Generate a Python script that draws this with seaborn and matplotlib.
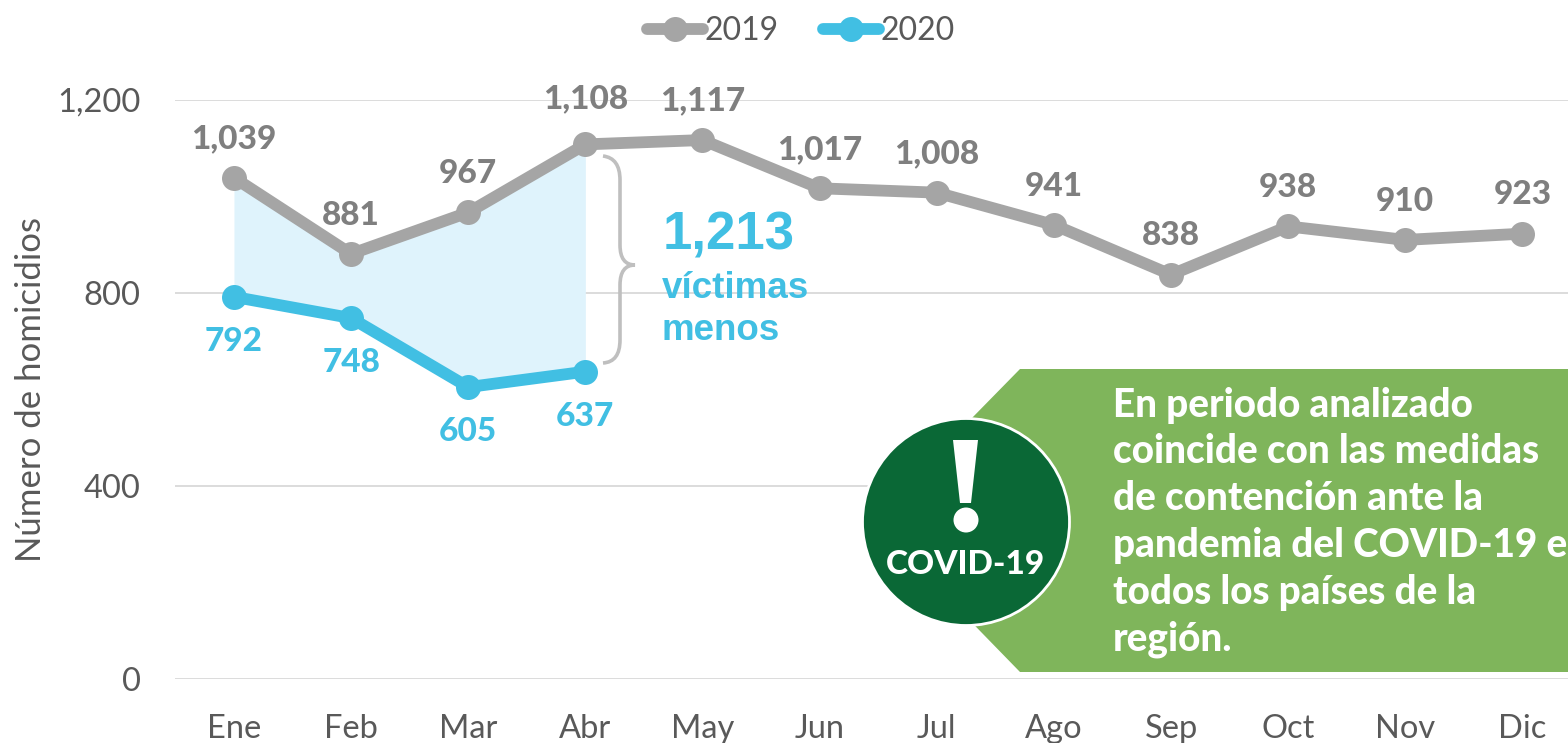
import numpy as np
import pandas as pd
import seaborn as sns
import matplotlib.pyplot as plt
from matplotlib.patches import Circle, PathPatch, Polygon
from matplotlib.path import Path

# Data
months = ['Ene', 'Feb', 'Mar', 'Abr', 'May', 'Jun', 'Jul', 'Ago', 'Sep', 'Oct', 'Nov', 'Dic']
values_2019 = [1039, 881, 967, 1108, 1117, 1017, 1008, 941, 838, 938, 910, 923]
values_2020 = [792, 748, 605, 637]
y_ticks = [0, 400, 800, 1200]
y_tick_labels = ['0', '400', '800', '1,200']
callout_lines = ['En periodo analizado', 'coincide con las medidas', 'de contención ante la',
                 'pandemia del COVID-19 e', 'todos los países de la', 'región.']

GRAY = '#A5A5A5'
GRAY_TEXT = '#7F7F7F'
BLUE = '#41BFE3'
DARK = '#595959'
W, H = 1568, 743

df = pd.concat([
    pd.DataFrame({'mes': months, 'homicidios': values_2019, 'anio': '2019'}),
    pd.DataFrame({'mes': months[:4], 'homicidios': values_2020, 'anio': '2020'}),
])

sns.set_theme(style='white')
plt.rcParams['font.family'] = ['Lato', 'DejaVu Sans']

fig = plt.figure(figsize=(W / 100, H / 100), dpi=100)
ax = fig.add_axes([175.4 / W, 1 - 679 / H, (1581 - 175.4) / W, (679 - 100) / H])

# Shaded gap between the years
ax.fill_between(np.arange(4), values_2019[:4], values_2020, color='#DFF3FC', lw=0, zorder=1)

sns.lineplot(data=df, x='mes', y='homicidios', hue='anio', palette=[GRAY, BLUE], sort=False,
             marker='o', markersize=18, markeredgewidth=0, linewidth=8.5,
             errorbar=None, ax=ax, zorder=3)

ax.set_xlim(-0.5, 11.5)
ax.set_ylim(0, 1200)
ax.set_yticks(y_ticks, y_tick_labels)
ax.set_xlabel('')
ax.set_ylabel('')
ax.tick_params(axis='both', length=0, labelsize=23.5, labelcolor=DARK)
ax.tick_params(axis='x', pad=25.5)
ax.tick_params(axis='y', pad=25)
ax.grid(axis='y', color='#D9D9D9', lw=1.3)
ax.set_axisbelow(True)
sns.despine(ax=ax, left=True, bottom=True, right=True, top=True)

fig.text(31 / W, 1 - 390 / H, 'Número de homicidios', rotation=90, ha='center', va='center',
         fontsize=25, color=DARK)

# Legend
handles, labels = ax.get_legend_handles_labels()
leg = ax.legend(handles, labels, loc='center', bbox_to_anchor=(801 / W, 1 - 31 / H),
                bbox_transform=fig.transFigure, ncol=2, frameon=False, fontsize=23,
                labelcolor=DARK, handlelength=1.75, handletextpad=0.05, columnspacing=1.4,
                borderpad=0, numpoints=1)
for line in leg.get_lines():
    line.set_solid_capstyle('round')

# Value labels
for i, v in enumerate(values_2019):
    off = 33 if i == 3 else 28
    ax.annotate(f'{v:,}', (i, v), xytext=(0, off), textcoords='offset points', ha='center',
                va='center', fontsize=24, fontweight=900, color=GRAY_TEXT, zorder=5)
for i, v in enumerate(values_2020):
    ax.annotate(f'{v:,}', (i, v), xytext=(0, -32), textcoords='offset points', ha='center',
                va='center', fontsize=24, fontweight=900, color=BLUE, zorder=5)


def px(x, y):
    return x / W, 1 - y / H


# Brace
brace = [(603, 156), (620, 158), (620, 180), (620, 245), (620, 265), (635, 265),
         (620, 265), (620, 285), (620, 340), (620, 362), (603, 363)]
codes = [Path.MOVETO, Path.CURVE3, Path.CURVE3, Path.LINETO, Path.CURVE3, Path.CURVE3,
         Path.CURVE3, Path.CURVE3, Path.LINETO, Path.CURVE3, Path.CURVE3]
fig.add_artist(PathPatch(Path([px(*p) for p in brace], codes), fill=False, ec='#BFBFBF', lw=2.6,
                         transform=fig.transFigure))

fig.text(*px(663, 236), '1,213', fontsize=38, fontweight='bold', color=BLUE, va='center',
         family='Liberation Sans')
fig.text(*px(662, 288), 'víctimas', fontsize=26.5, fontweight='bold', color=BLUE, va='center',
         family='Liberation Sans')
fig.text(*px(662, 331), 'menos', fontsize=26.5, fontweight='bold', color=BLUE, va='center',
         family='Liberation Sans')

# Callout
arrow = [(1020, 369), (1568, 369), (1568, 672), (1020, 672), (872, 520)]
fig.add_artist(Polygon([px(*p) for p in arrow], closed=True, fc='#7FB55B', ec='none',
                       transform=fig.transFigure, zorder=6))
for i, line in enumerate(callout_lines):
    fig.text(*px(1113, 405 + i * 46.8), line, fontsize=27.8, fontweight=900, color='white',
             va='center', zorder=9)

# COVID badge, drawn on a pixel-sized overlay
overlay = fig.add_axes([0, 0, 1, 1], zorder=7)
overlay.set_xlim(0, W)
overlay.set_ylim(H, 0)
overlay.axis('off')
overlay.patch.set_alpha(0)
overlay.add_patch(Circle((966, 522), 103.5, fc='#0A6836', ec='white', lw=2))
overlay.add_patch(Polygon([(953, 440), (978, 440), (971, 503), (960, 503)], closed=True, fc='white', ec='none'))
overlay.add_patch(Circle((966, 520), 12.5, fc='white', ec='none'))
overlay.text(966, 564, 'COVID-19', fontsize=24, fontweight=900, color='white', ha='center',
             va='center')

fig.savefig('out.png', dpi=100)
